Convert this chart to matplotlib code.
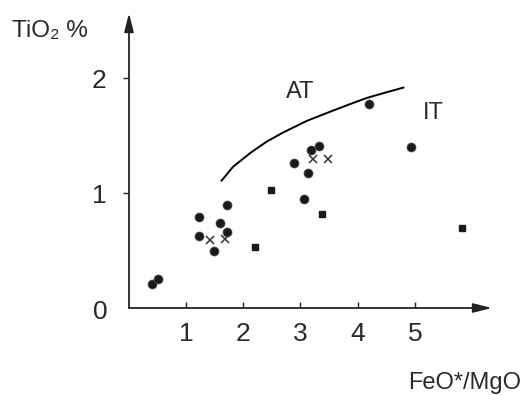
import matplotlib
matplotlib.use("Agg")
import numpy as np
from matplotlib import pyplot as plt

# values
circle_x = [0.40, 0.51, 1.22, 1.23, 1.49, 1.59, 1.71, 1.72, 2.88, 3.06, 3.14, 3.18, 3.33, 4.20, 4.94]
circle_y = [0.21, 0.25, 0.79, 0.63, 0.50, 0.74, 0.66, 0.90, 1.26, 0.95, 1.18, 1.38, 1.41, 1.78, 1.40]

square_x = [2.20, 2.48, 3.38, 5.83]
square_y = [0.53, 1.03, 0.82, 0.70]

cross_x = [1.42, 1.68, 3.22, 3.48]
cross_y = [0.59, 0.60, 1.30, 1.30]

# AT / IT boundary
curve_x = [1.62, 1.82, 2.12, 2.41, 2.70, 3.11, 3.57, 3.86, 4.16, 4.51, 4.80]
curve_y = [1.11, 1.23, 1.35, 1.45, 1.53, 1.63, 1.72, 1.775, 1.83, 1.88, 1.92]

xticks = [1, 2, 3, 4, 5]
yticks = [1, 2]

plt.rcParams['font.family'] = ['Liberation Sans', 'DejaVu Sans']
text_col = "#2a2a2a"

fig = plt.figure(figsize=(5.23, 3.96), dpi=100)
ax = fig.add_axes([129/523, (396-308)/396, (492-129)/523, (308-13)/396])
ax.set_xlim(0, 6.35)
ax.set_ylim(0, 2.57)

for s in ax.spines.values():
    s.set_visible(False)

# axes drawn as arrows
ax.annotate("", xy=(1, 0), xytext=(0, 0), xycoords="axes fraction",
            arrowprops=dict(arrowstyle="-|>,head_length=0.8,head_width=0.2", color="#222222", lw=1.3,
                            mutation_scale=14, shrinkA=0, shrinkB=0), annotation_clip=False)
ax.annotate("", xy=(0, 1), xytext=(0, 0), xycoords="axes fraction",
            arrowprops=dict(arrowstyle="-|>,head_length=0.8,head_width=0.2", color="#222222", lw=1.3,
                            mutation_scale=14, shrinkA=0, shrinkB=0), annotation_clip=False)

ax.set_xticks(xticks)
ax.set_yticks(yticks)
ax.tick_params(axis="x", direction="in", length=4, width=1, color="#222222",
               labelsize=19, labelcolor=text_col, pad=10)
ax.tick_params(axis="y", direction="out", length=4, width=1, color="#222222",
               labelsize=19, labelcolor=text_col, pad=12)

ax.plot(curve_x, curve_y, color="black", lw=1.4)
ax.plot(circle_x, circle_y, "o", color="#1a1a1a", ms=6.5, mec="#555555", mew=0.5)
ax.plot(square_x, square_y, "s", color="#1a1a1a", ms=5)
ax.plot(cross_x, cross_y, "x", color="#333333", ms=6, mew=1.1)

ax.text(2.99, 1.88, "AT", fontsize=17, color=text_col, ha="center", va="center")
ax.text(5.33, 1.70, "IT", fontsize=17, color=text_col, ha="center", va="center")

fig.text(100/523, 1 - 312/396, "0", fontsize=19, color=text_col, ha="center", va="center")
fig.text(12/523, 1 - 31/396, "TiO₂ %", fontsize=17.5, color=text_col, ha="left", va="center")
fig.text(521/523, 1 - 383/396, "FeO*/MgO", fontsize=17, color=text_col, ha="right", va="center")

fig.savefig("out.png", dpi=100, facecolor="white")
